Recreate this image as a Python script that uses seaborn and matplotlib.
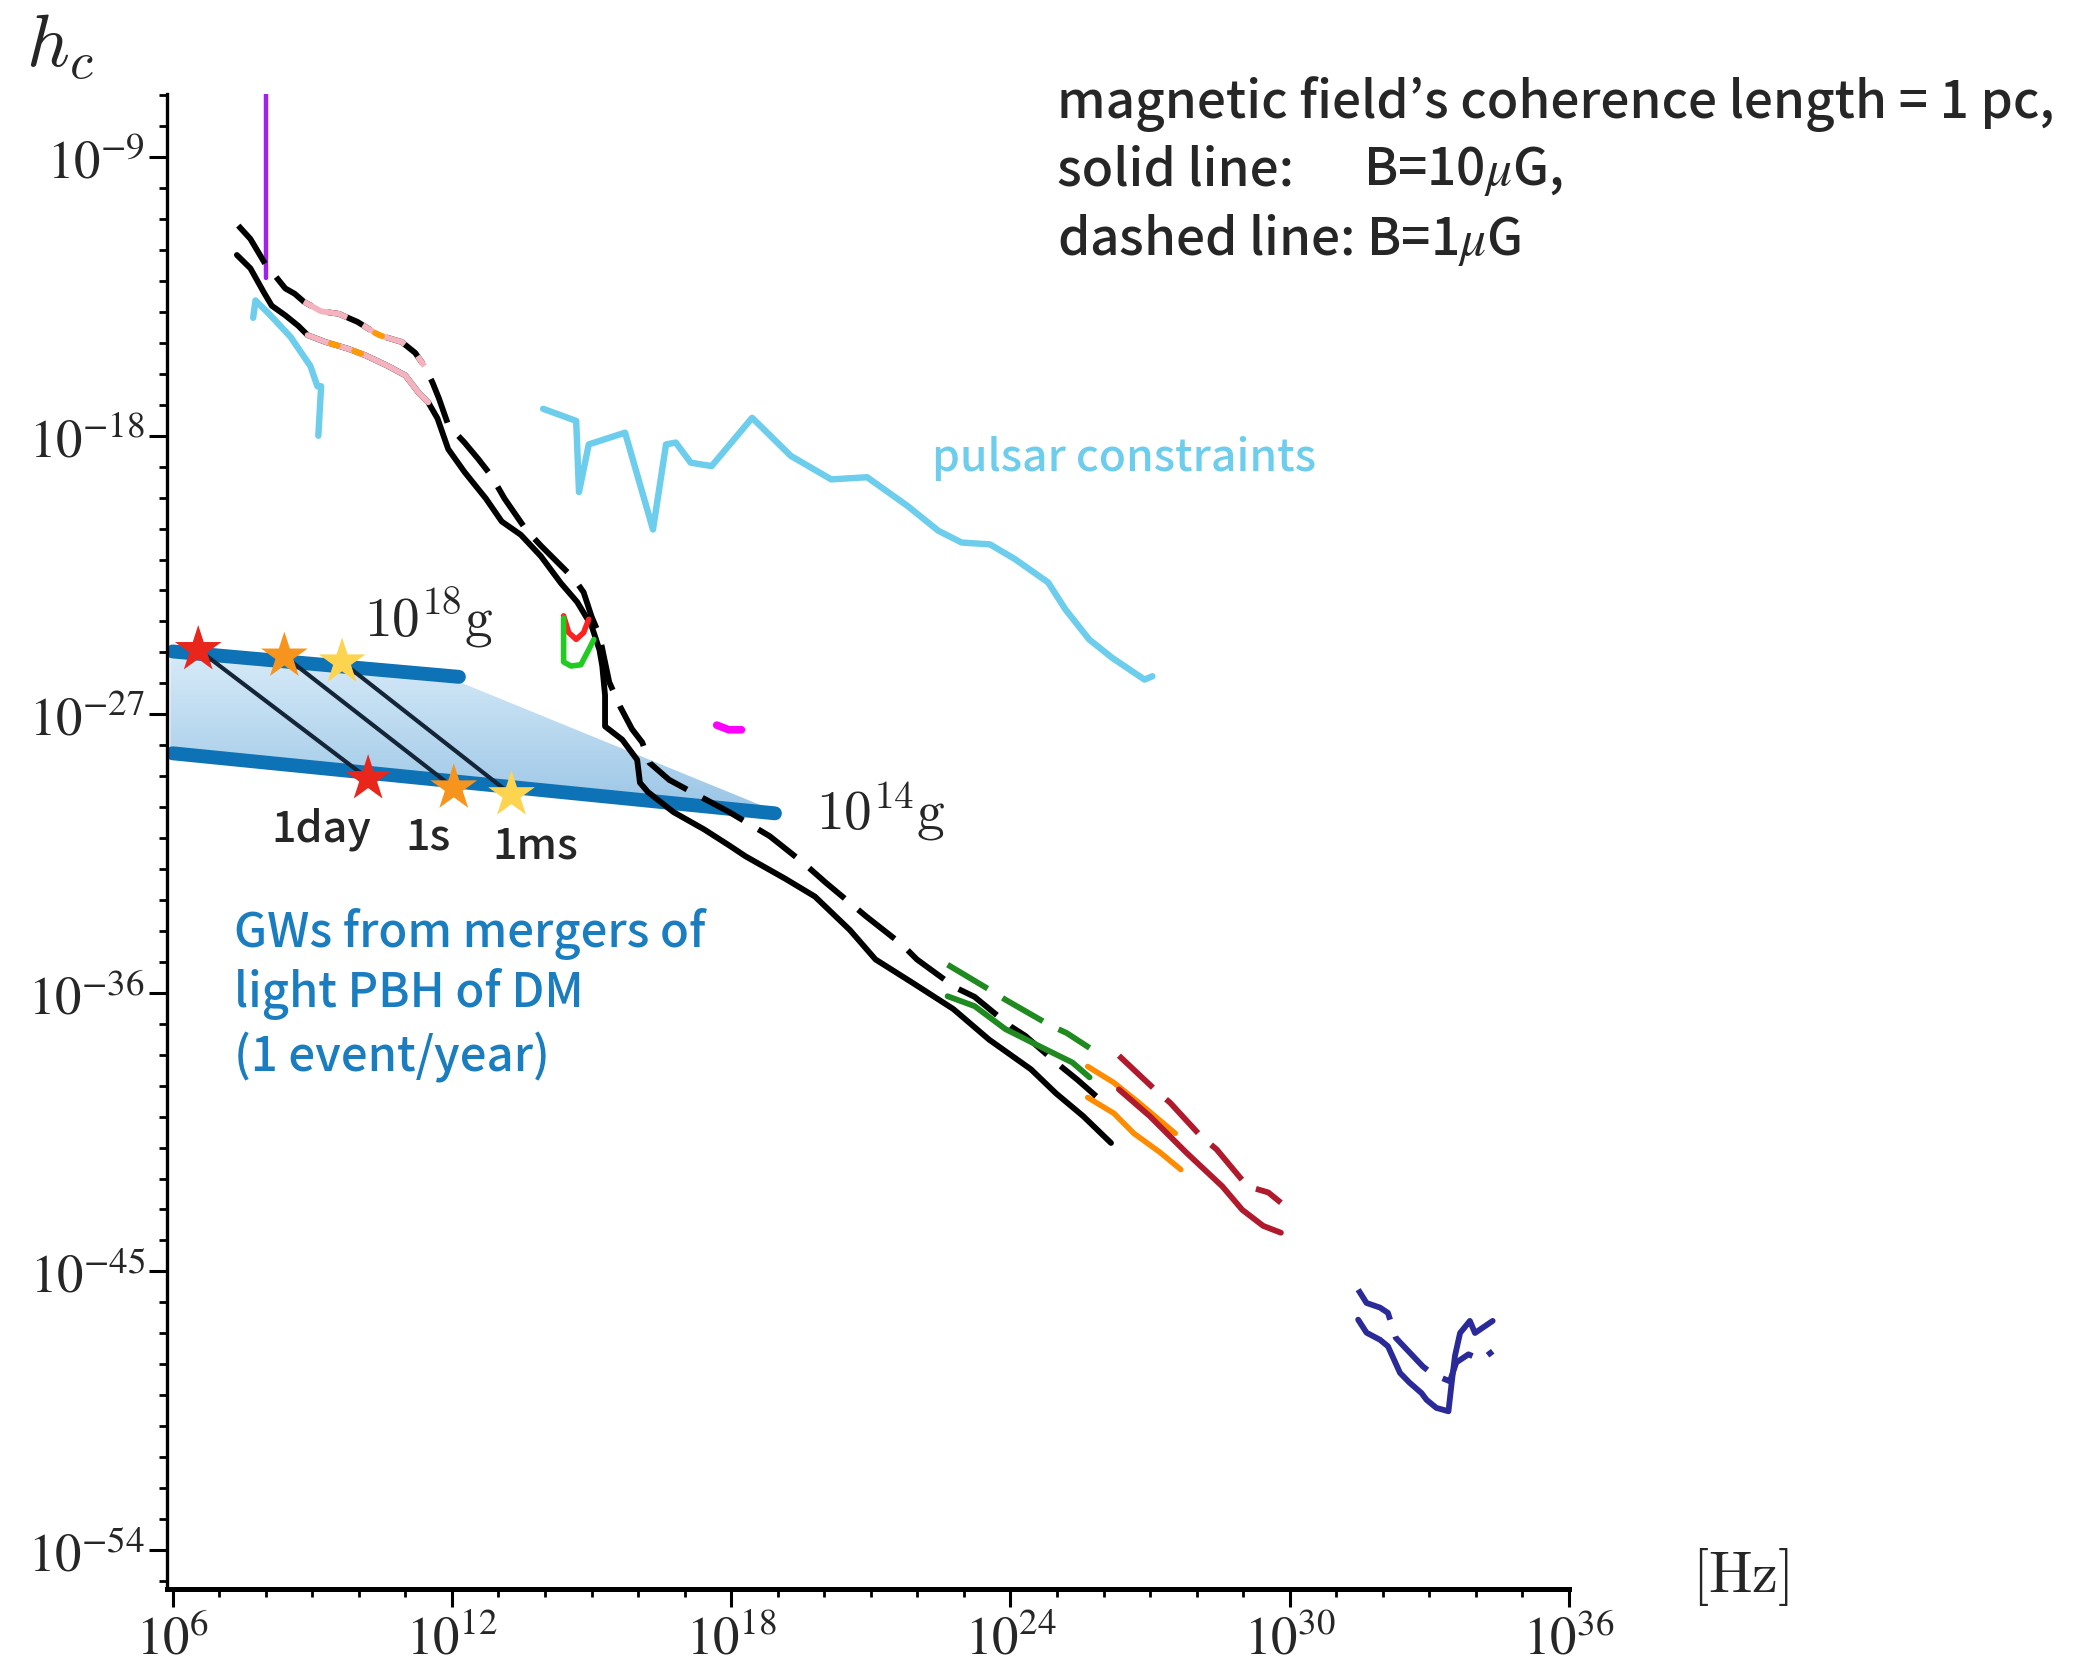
import numpy as np
import matplotlib
matplotlib.use('Agg')
import matplotlib.pyplot as plt
import seaborn as sns
from matplotlib.patches import Polygon
from matplotlib.colors import LinearSegmentedColormap

# every value below is log10: x = log10(f / Hz), y = log10(h_c)

# B = 10 muG (solid black) and B = 1 muG (dashed black)
solid_x = [7.38, 7.67, 7.96, 8.13, 8.42, 8.70, 8.90, 9.28, 9.77, 10.14, 10.63, 11.00,
           11.29, 11.49, 11.69, 11.92, 12.27, 12.73, 13.07, 13.48, 13.91, 14.34, 14.69,
           15.00, 15.17, 15.23, 15.29, 15.29, 15.66, 15.98, 16.04, 16.21, 16.76, 17.42,
           17.96, 18.31, 19.17, 19.80, 20.55, 21.10, 21.88, 22.77, 23.54, 24.44, 24.98,
           25.56, 26.16]
solid_y = [-12.16, -12.59, -13.37, -13.80, -14.11, -14.45, -14.75, -14.97, -15.19, -15.40,
           -15.75, -16.05, -16.62, -16.92, -17.44, -18.43, -19.17, -20.03, -20.77, -21.20,
           -21.89, -22.76, -23.37, -24.14, -24.92, -25.44, -26.39, -27.39, -27.82, -28.47,
           -29.21, -29.51, -30.16, -30.72, -31.24, -31.59, -32.32, -32.89, -33.97, -34.92,
           -35.66, -36.52, -37.51, -38.47, -39.25, -39.98, -40.85]
dashed_x = [7.41, 7.67, 7.84, 8.01, 8.19, 8.42, 8.62, 8.82, 9.19, 9.57, 9.97, 10.43, 10.92,
            11.21, 11.41, 11.58, 11.72, 11.92, 12.27, 12.56, 12.85, 13.13, 13.59, 13.91,
            14.63, 14.83, 15.00, 15.17, 15.26, 15.38, 15.61, 15.87, 16.09, 16.24, 16.67,
            17.10, 17.96, 18.83, 19.55, 20.04, 20.90, 21.67, 21.99, 22.82, 23.23, 24.00,
            24.32, 24.98, 25.44, 26.10]
dashed_y = [-11.21, -11.64, -12.07, -12.50, -12.81, -13.24, -13.41, -13.67, -13.98, -14.06,
            -14.32, -14.75, -14.97, -15.32, -15.75, -16.27, -16.79, -17.65, -18.22, -18.74,
            -19.30, -20.03, -21.03, -21.55, -22.63, -23.06, -23.84, -24.45, -25.10, -25.96,
            -26.74, -27.48, -27.91, -28.56, -29.12, -29.47, -30.16, -30.94, -31.80, -32.45,
            -33.53, -34.44, -34.92, -35.83, -36.13, -37.08, -37.39, -38.25, -38.81, -39.68]
# small orange pieces on the pink overlay
orange_bit_up_x = [10.35, 10.50]
orange_bit_up_y = [-14.68, -14.78]
orange_bit_lo1_x = [9.40, 9.55]
orange_bit_lo1_y = [-15.02, -15.09]
orange_bit_lo2_x = [9.90, 10.05]
orange_bit_lo2_y = [-15.26, -15.35]

# other detectors / constraints
purple_x = [8.01, 8.01]
purple_y = [-6.9, -12.89]
pulsar_left_x = [7.73, 7.78, 8.07, 8.53, 8.96, 9.11, 9.19, 9.13]
pulsar_left_y = [-14.19, -13.63, -14.06, -14.80, -15.75, -16.40, -16.40, -18.00]
pulsar_x = [13.96, 14.67, 14.73, 14.94, 15.72, 16.32, 16.60, 16.81, 17.13, 17.58, 18.45,
            19.28, 20.15, 20.92, 21.79, 22.45, 22.95, 23.56, 24.09, 24.81, 25.18, 25.69,
            26.18, 26.88, 27.05]
pulsar_y = [-17.13, -17.52, -19.82, -18.28, -17.90, -21.03, -18.28, -18.22, -18.87, -18.98,
            -17.42, -18.65, -19.41, -19.34, -20.27, -21.07, -21.45, -21.51, -21.98, -22.74,
            -23.61, -24.58, -25.17, -25.88, -25.77]
red_u_x = [14.40, 14.51, 14.67, 14.83, 14.94]
red_u_y = [-23.82, -24.36, -24.58, -24.36, -23.93]
green_u_x = [14.40, 14.40, 14.56, 14.77, 14.94, 15.05]
green_u_y = [-23.89, -25.31, -25.44, -25.40, -24.91, -24.58]
magenta_x = [17.69, 17.95, 18.22]
magenta_y = [-27.35, -27.50, -27.50]
green_dash_x = [22.65, 23.54, 23.89, 24.84, 25.21, 25.70]
green_dash_y = [-35.09, -35.89, -36.22, -37.04, -37.30, -37.78]
green_sol_x = [22.65, 23.23, 23.89, 24.75, 25.33, 25.70]
green_sol_y = [-36.11, -36.43, -37.17, -37.82, -38.25, -38.73]
orange_up_x = [25.66, 26.22, 26.76, 27.54]
orange_up_y = [-38.38, -38.90, -39.55, -40.54]
orange_lo_x = [25.66, 26.22, 26.65, 27.21, 27.66]
orange_lo_y = [-39.38, -39.89, -40.54, -41.15, -41.71]
red_sol_x = [26.33, 26.99, 27.77, 28.55, 28.98, 29.43, 29.81]
red_sol_y = [-39.12, -39.98, -41.15, -42.25, -43.01, -43.53, -43.75]
red_dash_x = [26.33, 27.10, 27.43, 28.09, 28.43, 29.09, 29.54, 29.81]
red_dash_y = [-38.03, -39.12, -39.55, -40.63, -41.06, -42.25, -42.45, -42.78]
navy_sol_x = [31.47, 31.65, 31.94, 32.11, 32.37, 32.57, 32.83, 32.94, 33.15, 33.41, 33.48,
              33.55, 33.66, 33.87, 33.98, 34.36]
navy_sol_y = [-46.56, -46.98, -47.21, -47.42, -48.28, -48.59, -48.93, -49.15, -49.41,
              -49.52, -48.59, -47.73, -46.99, -46.60, -46.99, -46.60]
navy_dash_x = [31.47, 31.65, 31.94, 32.11, 32.28, 32.86, 33.08, 33.44, 33.58, 33.84, 34.12,
               34.36]
navy_dash_y = [-45.59, -46.02, -46.17, -46.34, -47.15, -48.07, -48.33, -48.55, -47.94,
               -47.68, -47.86, -47.58]

# PBH merger band (1 event/year), 10^18 g to 10^14 g
band_up_x = [6.0, 12.15]
band_up_y = [-24.97, -25.79]
band_lo_x = [6.0, 18.94]
band_lo_y = [-28.26, -30.20]
fill_x = [5.95, 12.15, 18.9, 5.95]
fill_y = [-25.15, -25.95, -30.1, -28.2]
star_up_x = [6.55, 8.40, 9.64]
star_up_y = [-24.91, -25.12, -25.31]
star_lo_x = [10.20, 12.04, 13.28]
star_lo_y = [-29.08, -29.38, -29.60]
star_names = ['1day', '1s', '1ms']
star_colors = {'1day': '#e8261c', '1s': '#f7941d', '1ms': '#fdd44f'}

x_ticks = [6, 12, 18, 24, 30, 36]
y_ticks = [-9, -18, -27, -36, -45, -54]

sns.set_style('ticks')
plt.rcParams['font.family'] = ['Noto Sans CJK JP', 'DejaVu Sans']
plt.rcParams['mathtext.fontset'] = 'stix'

fig = plt.figure(figsize=(20.99, 16.8), dpi=100)
ax = fig.add_axes([0.0797, 0.0542, 0.6678, 0.89])


def line(x, y, color, lw, dashed=False, z=3):
    sns.lineplot(x=x, y=y, sort=False, estimator=None, errorbar=None, color=color,
                 lw=lw, linestyle=(0, (8, 3)) if dashed else '-', ax=ax, zorder=z)


# shaded PBH region with a soft vertical gradient
cmap = LinearSegmentedColormap.from_list('pbh', ['#d6eaf8', '#9bc6e6'])
grad = np.linspace(0, 1, 256).reshape(-1, 1)
im = ax.imshow(grad, extent=[min(fill_x), max(fill_x), min(fill_y), max(fill_y)],
               origin='upper', cmap=cmap, aspect='auto', zorder=1)
poly = Polygon(np.column_stack([fill_x, fill_y]), closed=True, facecolor='none',
               edgecolor='none', transform=ax.transData)
ax.add_patch(poly)
im.set_clip_path(poly)

line(band_up_x, band_up_y, '#0d72b6', 10, z=2)
line(band_lo_x, band_lo_y, '#0d72b6', 10, z=2)
for i in range(3):
    line([star_up_x[i], star_lo_x[i]], [star_up_y[i], star_lo_y[i]], '#132536', 3.0, z=3)
sns.scatterplot(x=star_up_x + star_lo_x, y=star_up_y + star_lo_y, hue=star_names * 2,
                palette=star_colors, marker='*', s=1250, linewidth=0, legend=False,
                ax=ax, zorder=6)

# curves
line(purple_x, purple_y, '#a020f0', 3.2)
line(pulsar_left_x, pulsar_left_y, '#6ccdec', 4.6)
line(pulsar_x, pulsar_y, '#6ccdec', 4.6)
line(solid_x, solid_y, 'black', 4.2, z=4)
line(dashed_x, dashed_y, 'black', 4.2, dashed=True, z=4)
line(solid_x[6:14], solid_y[6:14], '#f5b3c0', 4.2, z=4.5)
line(dashed_x[7:15], dashed_y[7:15], '#f5b3c0', 4.2, dashed=True, z=4.5)
line(orange_bit_up_x, orange_bit_up_y, '#ff9a00', 4.2, z=4.6)
line(orange_bit_lo1_x, orange_bit_lo1_y, '#ff9a00', 4.2, z=4.6)
line(orange_bit_lo2_x, orange_bit_lo2_y, '#ff9a00', 4.2, z=4.6)
line(red_u_x, red_u_y, '#ff2020', 4.0, z=5)
line(green_u_x, green_u_y, '#1fcc1f', 4.0, z=5)
line(magenta_x, magenta_y, '#ff00ff', 5.5)
line(green_sol_x, green_sol_y, '#1f8a1f', 4.2, z=5)
line(green_dash_x, green_dash_y, '#1f8a1f', 4.2, dashed=True, z=5)
line(orange_up_x, orange_up_y, '#ff8c00', 4.0)
line(orange_lo_x, orange_lo_y, '#ff8c00', 4.0)
line(red_sol_x, red_sol_y, '#b01a2c', 4.2, z=4)
line(red_dash_x, red_dash_y, '#b01a2c', 4.2, dashed=True, z=4)
line(navy_sol_x, navy_sol_y, '#2b2a99', 4.2)
line(navy_dash_x, navy_dash_y, '#2b2a99', 4.2, dashed=True)

# axes
ax.set_xlim(5.885, 36)
ax.set_ylim(-55.26, -6.95)
ax.set_xticks(x_ticks)
ax.set_xticks(range(6, 37), minor=True)
ax.set_yticks(y_ticks)
ax.set_yticks(range(-55, -6), minor=True)
ax.set_xticklabels([f'$10^{{{k}}}$' for k in x_ticks])
ax.set_yticklabels([f'$10^{{{k}}}$' for k in y_ticks])
ax.tick_params(which='major', direction='out', length=13, width=2.2, labelsize=38,
               color='black', pad=3)
ax.tick_params(which='minor', direction='out', length=5.5, width=2.0, color='black')
for side in ['top', 'right']:
    ax.spines[side].set_visible(False)
ax.spines['left'].set_linewidth(2.4)
ax.spines['left'].set_color('black')
ax.spines['bottom'].set_linewidth(3.6)
ax.spines['bottom'].set_color('black')
ax.set_xlabel('')
ax.set_ylabel('')

# text
ax.text(3.58, -5.41, r'$h_c$', fontsize=54, math_fontfamily='cm', ha='center', va='center')
ax.text(39.68, -54.87, r'$[\mathrm{Hz}]$', fontsize=42, math_fontfamily='cm',
        ha='center', va='center')
ax.text(11.49, -23.89, r'$10^{18}\mathrm{g}$', fontsize=40, math_fontfamily='cm',
        ha='center', va='center')
ax.text(21.21, -30.16, r'$10^{14}\mathrm{g}$', fontsize=40, math_fontfamily='cm',
        ha='center', va='center')

top = dict(fontsize=37, fontweight='medium', va='center', ha='left')
ax.text(25.01, -7.27, 'magnetic field’s coherence length = 1 pc,', **top)
ax.text(25.01, -9.43, 'solid line:', **top)
ax.text(31.57, -9.43, r'B=10$\mu$G,', **top)
ax.text(25.01, -11.68, r'dashed line: B=1$\mu$G', **top)
ax.text(26.45, -18.74, 'pulsar constraints', ha='center', va='center', color='#6ccdec',
        fontsize=32, fontweight='medium')
for txt, xx, yy in zip(star_names, [9.19, 11.49, 13.79], [-30.72, -30.98, -31.24]):
    ax.text(xx, yy, txt, ha='center', va='center', fontsize=31, fontweight='medium')
gw_lines = ['GWs from mergers of', 'light PBH of DM', '(1 event/year)']
for txt, yy in zip(gw_lines, [-34.10, -36.04, -38.08]):
    ax.text(7.32, yy, txt, ha='left', va='center', color='#1a7dc0', fontsize=34,
            fontweight='medium')

fig.savefig('out.png', dpi=100)
